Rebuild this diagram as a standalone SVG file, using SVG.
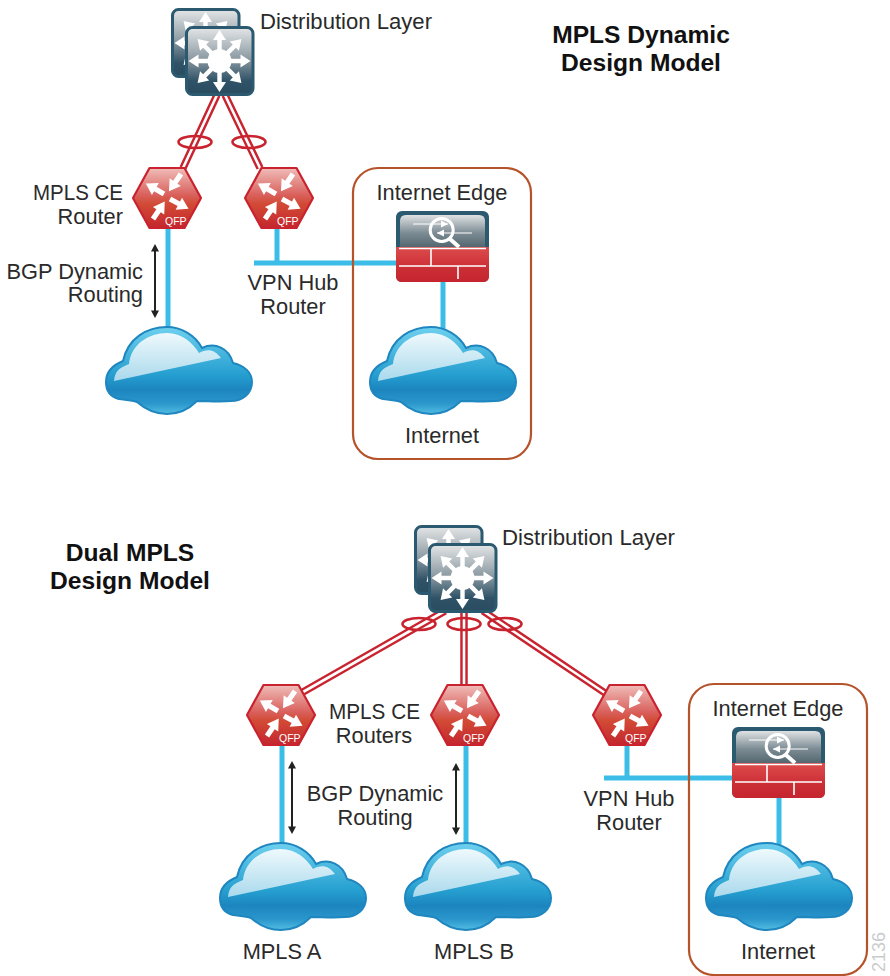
<svg xmlns="http://www.w3.org/2000/svg" width="890" height="976" viewBox="0 0 890 976">
<style>
text{font-family:"Liberation Sans",Arial,sans-serif;font-size:21.8px;fill:#2a2a2a}
.t{font-weight:bold;font-size:24.6px;fill:#111;text-anchor:middle}
.m{text-anchor:middle}
.e{text-anchor:end}
.red{fill:none;stroke:#c8232f;stroke-width:7.5}
.wh{fill:none;stroke:#fff;stroke-width:2.6}
.ring{fill:none;stroke:#c8232f;stroke-width:2.6}
.blue{fill:none;stroke:#3bbde8;stroke-width:5}
.box{fill:none;stroke:#b5532a;stroke-width:2.2}
.dbl{fill:none;stroke:#222;stroke-width:2}
.hd{fill:#222}
</style>
<defs>
<path id="hu" d="M0,0L4,7.500H-4Z"/>
<path id="hl" d="M0,0L4,-7.500H-4Z"/>
<linearGradient id="gD" x1="0" y1="0" x2="0" y2="1"><stop offset="0" stop-color="#e4e6e7"/><stop offset=".45" stop-color="#8f9da5"/><stop offset=".8" stop-color="#2f5266"/><stop offset="1" stop-color="#294c60"/></linearGradient>
<linearGradient id="gR" x1="0" y1="0" x2="0" y2="1"><stop offset="0" stop-color="#f0bdb9"/><stop offset=".45" stop-color="#d9605c"/><stop offset=".6" stop-color="#d24a35"/><stop offset="1" stop-color="#c4262e"/></linearGradient>
<linearGradient id="gF" x1="0" y1="0" x2="0" y2="1"><stop offset="0" stop-color="#dfe2e3"/><stop offset=".55" stop-color="#7e8d95"/><stop offset="1" stop-color="#53666f"/></linearGradient>
<linearGradient id="gF2" x1="0" y1="0" x2="0" y2="1"><stop offset="0" stop-color="#dc4c4c"/><stop offset=".6" stop-color="#cc2e36"/><stop offset="1" stop-color="#c5252e"/></linearGradient>
<linearGradient id="gC" x1="0" y1="0" x2="0" y2="1"><stop offset="0" stop-color="#6fd0ee"/><stop offset=".55" stop-color="#259fd0"/><stop offset=".72" stop-color="#1c85bf"/><stop offset=".88" stop-color="#2b97cc"/><stop offset="1" stop-color="#52bde2"/></linearGradient>
<linearGradient id="gH" x1="0" y1="0" x2="0" y2="1"><stop offset="0" stop-color="#eef9fc"/><stop offset="1" stop-color="#a9d9ec"/></linearGradient>
<path id="ar" d="M0,-2.600H10V-6.800L21,0L10,6.800V2.600H0Z" fill="#fff"/>
<path id="ad" d="M8,-2.200H21V-6.500L31,0L21,6.500V2.200H8Z" fill="#fff"/>
<g id="dist">
<rect x="1.500" y="1.500" width="66.500" height="67" rx="6" fill="url(#gD)" stroke="#2b5a70" stroke-width="3"/>
<g transform="translate(34.500,35)">
<circle r="12" fill="#fff"/>
<use href="#ad"/><use href="#ad" transform="rotate(45)"/><use href="#ad" transform="rotate(90)"/><use href="#ad" transform="rotate(135)"/><use href="#ad" transform="rotate(180)"/><use href="#ad" transform="rotate(225)"/><use href="#ad" transform="rotate(270)"/><use href="#ad" transform="rotate(315)"/>
</g>
</g>
<g id="router">
<path d="M-34,0L-17.500,-30H17.500L34,0L17.500,30H-17.500Z" fill="url(#gR)" stroke="#c8232f" stroke-width="2.200" stroke-linejoin="round"/>
<use href="#ar" transform="translate(14,-24) rotate(125)"/>
<use href="#ar" transform="translate(-3,-4) rotate(210)"/>
<use href="#ar" transform="translate(-14,21) rotate(-56)"/>
<use href="#ar" transform="translate(3,1) rotate(28)"/>
<text x="-2" y="27" style="font-size:10.5px;fill:#fff">QFP</text>
</g>
<g id="fw">
<rect x="0" y="0" width="93" height="71" rx="6" fill="#2b5a70"/>
<path d="M4,10Q4,4 10,4H83Q89,4 89,10V36H4Z" fill="url(#gF)"/>
<path d="M0,36H93V65Q93,71 87,71H6Q0,71 0,65Z" fill="url(#gF2)"/>
<path d="M3,37.500H90M3,55H90M35,37.500V55M62,55V68" fill="none" stroke="#fff" stroke-width="1.600"/>
<path d="M17,13H52M41,22H76" fill="none" stroke="#fff" stroke-width="1"/>
<path d="M52,13L45,9.500V16.500ZM41,22L48,18.500V25.500Z" fill="#fff"/>
<circle cx="45.700" cy="19" r="11.500" fill="none" stroke="#fff" stroke-width="3"/>
<path d="M54,28L63,36" stroke="#fff" stroke-width="4" fill="none"/>
</g>
<g id="cloud">
<path d="M1,56C1,45 8,39 18,35C23,12 42,1 62,1C76,1 90,9 97,22C110,16 124,22 128,37C140,40 147,47 147,56C147,68 137,75 126,75C115,76 103,75 92,75C84,83 74,88 62,88C50,88 40,83 32,76C26,74 20,74 14,73C6,71 1,65 1,56Z" fill="url(#gC)" stroke="#1f86bf" stroke-width="2"/>
<path d="M9,55C10,45 14,42 24,38C26,18 44,7 62,7C77,7 88,17 94,27C103,22 110,24 116,32Z" fill="url(#gH)"/>
</g>
</defs>

<g id="connectors">
<path class="red" d="M217,95L183,168M225,95L260,168"/><path class="wh" d="M217,95L183,168M225,95L260,168"/>
<path class="red" d="M445,611L303,692M464,611V685M483,611L608,695"/><path class="wh" d="M445,611L303,692M464,611V685M483,611L608,695"/>
<ellipse class="ring" cx="195" cy="142" rx="16.500" ry="6"/><ellipse class="ring" cx="249" cy="142" rx="16.500" ry="6"/>
<ellipse class="ring" cx="419" cy="624" rx="16.500" ry="6"/><ellipse class="ring" cx="464" cy="624" rx="16.500" ry="6"/><ellipse class="ring" cx="505" cy="624" rx="16.500" ry="6"/>
<path class="blue" d="M168,226V330M277,226V263M254,263H398M443,280V330"/>
<path class="blue" d="M282,743V845M466,743V845M627,743V778M604,778H734M779,796V845"/>
<path class="dbl" d="M155,248V314M292,765V830M456,767V831"/>
<g class="hd"><use href="#hu" x="155" y="244"/><use href="#hl" x="155" y="318"/><use href="#hu" x="292" y="761"/><use href="#hl" x="292" y="834"/><use href="#hu" x="456" y="763"/><use href="#hl" x="456" y="835"/></g>
</g>

<g id="dist1"><use href="#dist" x="171" y="8"/><use href="#dist" x="185" y="26"/><text x="260" y="29" textLength="172" lengthAdjust="spacingAndGlyphs">Distribution Layer</text></g>
<g id="ce1"><use href="#router" transform="translate(167,198)"/><text x="33" y="200" textLength="90" lengthAdjust="spacingAndGlyphs">MPLS CE</text><text class="e" x="123" y="224">Router</text></g>
<g id="hub1"><use href="#router" transform="translate(279,198)"/><text class="m" x="293" y="290">VPN Hub</text><text class="m" x="293" y="314">Router</text></g>
<g id="fw1"><use href="#fw" x="396" y="211"/></g>
<g id="cloud1"><use href="#cloud" x="105" y="326"/><text class="e" x="143" y="279">BGP Dynamic</text><text class="e" x="143" y="302">Routing</text></g>
<g id="cloud2"><use href="#cloud" x="369" y="326"/></g>
<g id="edge1"><rect class="box" x="353" y="168" width="178" height="291" rx="25"/><text class="m" x="442" y="200">Internet Edge</text><text class="m" x="442" y="443">Internet</text></g>
<g id="title1"><text class="t" x="641" y="43">MPLS Dynamic</text><text class="t" x="641" y="71">Design Model</text></g>

<g id="dist2"><use href="#dist" x="414" y="525"/><use href="#dist" x="428" y="543"/><text x="502" y="545" textLength="173" lengthAdjust="spacingAndGlyphs">Distribution Layer</text></g>
<g id="ceA"><use href="#router" transform="translate(281,715)"/></g>
<g id="ceB"><use href="#router" transform="translate(465,715)"/><text x="329" y="719" textLength="91" lengthAdjust="spacingAndGlyphs">MPLS CE</text><text class="m" x="374" y="743">Routers</text></g>
<g id="hub2"><use href="#router" transform="translate(627,715)"/><text class="m" x="629" y="806">VPN Hub</text><text class="m" x="629" y="830">Router</text></g>
<g id="fw2"><use href="#fw" x="732" y="727"/></g>
<g id="cloudA"><use href="#cloud" x="219" y="842"/><text class="m" x="282" y="959">MPLS A</text><text class="m" x="375" y="801">BGP Dynamic</text><text class="m" x="375" y="825">Routing</text></g>
<g id="cloudB"><use href="#cloud" x="404" y="842"/><text class="m" x="474" y="959">MPLS B</text></g>
<g id="cloud3"><use href="#cloud" x="705" y="842"/></g>
<g id="edge2"><rect class="box" x="689" y="684" width="178" height="291" rx="25"/><text class="m" x="778" y="716">Internet Edge</text><text class="m" x="778" y="959">Internet</text></g>
<g id="title2"><text class="t" x="130" y="561">Dual MPLS</text><text class="t" x="130" y="589">Design Model</text></g>
<text transform="translate(885,972) rotate(-90)" style="font-size:18px;fill:#c9ccce">2136</text>
</svg>
